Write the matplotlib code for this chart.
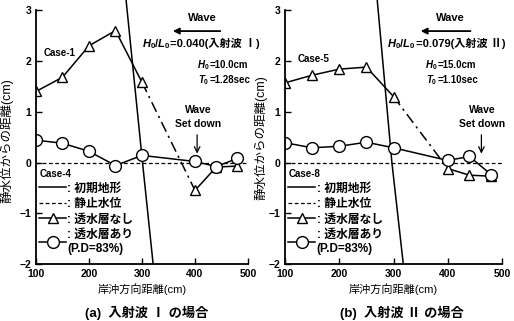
import matplotlib
matplotlib.use("Agg")
from matplotlib import pyplot
from matplotlib.lines import Line2D
from matplotlib.font_manager import FontProperties

pyplot.rcParams['font.family'] = ['Liberation Sans', 'Noto Sans CJK JP', 'DejaVu Sans']
pyplot.rcParams['font.weight'] = 'bold'
pyplot.rcParams['mathtext.fontset'] = 'custom'
pyplot.rcParams['mathtext.it'] = 'Liberation Sans:italic:bold'
pyplot.rcParams['mathtext.rm'] = 'Liberation Sans:bold'

# distance along shore-offshore direction (cm)
x_pts = [100, 150, 200, 250, 300, 400, 440, 480]

# (a) incident wave I
tri_a = [1.40, 1.68, 2.30, 2.60, 1.58, -0.55, -0.09, -0.07]   # Case-1
cir_a = [0.44, 0.38, 0.22, -0.06, 0.14, 0.02, -0.08, 0.08]    # Case-4
profile_x_a = [270, 301, 321]
# (b) incident wave II
tri_b = [1.57, 1.72, 1.84, 1.88, 1.30, -0.12, -0.25, -0.27]   # Case-5
cir_b = [0.39, 0.29, 0.32, 0.40, 0.29, 0.04, 0.12, -0.24]     # Case-8
profile_x_b = [270, 297, 318]
profile_y = [3.2, 0, -2]

xticks = [100, 200, 300, 400, 500]
yticks = [-2, -1, 0, 1, 2, 3]

jp = ['Liberation Sans', 'Noto Sans CJK JP', 'DejaVu Sans']
font_size = 7.5
lw = 1.1

fig = pyplot.figure(figsize=(5.14, 3.21), dpi=100)
axa = fig.add_axes([0.070, 0.1776, 0.4125, 0.822])
axb = fig.add_axes([0.5545, 0.1776, 0.4222, 0.822])

panels = [
    (axa, tri_a, cir_a, profile_x_a, 'Case-1', (145, 2.16), 'Case-4',
     '=0.040(入射波 Ⅰ)', 353, '=10.0cm', '=1.28sec', 428, 413, (453, 353), 406),
    (axb, tri_b, cir_b, profile_x_b, 'Case-5', (152, 2.04), 'Case-8',
     '=0.079(入射波 Ⅱ)', 341, '=15.0cm', '=1.10sec', 381, 404, (447, 345), 464),
]

for (ax, tri, cir, prof_x, case_t, case_pos, case_c, hl_txt, hl_x,
     h_txt, t_txt, ht_x, wave_x, arr_x, sd_x) in panels:
    ax.plot(prof_x, profile_y, color='k', lw=lw)
    ax.axhline(0, color='k', lw=0.9, ls=(0, (3, 2)))
    # triangles: solid, dash-dot across the breaker zone
    ax.plot(x_pts[:5], tri[:5], color='k', lw=lw)
    ax.plot(x_pts[4:6], tri[4:6], color='k', lw=lw, ls=(0, (7, 3, 1.5, 3)))
    ax.plot(x_pts[5:], tri[5:], color='k', lw=lw)
    ax.plot(x_pts, tri, ls='none', marker='^', ms=6.5, mfc='white', mec='k', mew=1.0)
    ax.plot(x_pts, cir, color='k', lw=lw, marker='o', ms=8.5, mfc='white', mec='k', mew=1.0)

    ax.set_xlim(100, 500)
    ax.set_ylim(-2, 3.2)
    ax.set_xticks(xticks)
    ax.set_yticks(yticks)
    ax.spines['top'].set_visible(False)
    ax.spines['right'].set_visible(False)
    ax.spines['left'].set_bounds(-2, 3)
    ax.spines['left'].set_linewidth(1.3)
    ax.spines['bottom'].set_linewidth(1.3)
    ax.tick_params(direction='in', length=4, width=1.0, labelsize=font_size)
    ax.patch.set_alpha(0)

    ax.set_xlabel('岸沖方向距離(cm)', fontsize=8, family=jp, labelpad=3)
    ax.set_ylabel('静水位からの距離(cm)', fontsize=9, family=jp)

    ax.text(case_pos[0], case_pos[1], case_t, fontsize=7, ha='center', va='center')

    # wave direction
    ax.text(wave_x, 2.84, 'Wave', fontsize=8, ha='center', va='center')
    ax.annotate('', xy=(arr_x[1], 2.59), xytext=(arr_x[0], 2.59),
                arrowprops=dict(arrowstyle='-|>', color='k', lw=1.3, mutation_scale=9))
    ax.text(hl_x, 2.27, r'$H_0/L_0$', fontsize=8, ha='right', va='baseline')
    ax.text(hl_x, 2.27, hl_txt, fontsize=8, ha='left', va='baseline', family=jp)
    ax.text(ht_x, 1.86, r'$H_0$', fontsize=7, ha='right', va='baseline')
    ax.text(ht_x, 1.86, h_txt, fontsize=7, ha='left', va='baseline')
    ax.text(ht_x, 1.57, r'$T_0$', fontsize=7, ha='right', va='baseline')
    ax.text(ht_x, 1.57, t_txt, fontsize=7, ha='left', va='baseline')

    # set down
    ax.text(sd_x, 1.04, 'Wave', fontsize=7.5, ha='center', va='center')
    ax.text(sd_x, 0.75, 'Set down', fontsize=7.5, ha='center', va='center')
    ax.annotate('', xy=(sd_x - 2, 0.12), xytext=(sd_x - 2, 0.60),
                arrowprops=dict(arrowstyle='->', color='k', lw=0.9, mutation_scale=10))

    handles = [
        Line2D([], [], color='k', lw=lw),
        Line2D([], [], color='k', lw=0.9, ls=(0, (3, 2))),
        Line2D([], [], color='k', lw=lw, marker='^', ms=6.5, mfc='white', mec='k'),
        Line2D([], [], color='k', lw=lw, marker='o', ms=8.5, mfc='white', mec='k'),
    ]
    labels = [': 初期地形', ': 静止水位', ': 透水層なし', ': 透水層あり\n(P.D=83%)']
    leg = ax.legend(handles, labels, loc='upper left', bbox_to_anchor=(0.015, 0.36),
                    frameon=False, prop=FontProperties(family=jp, size=8.5, weight='bold'),
                    handlelength=2.3, handletextpad=0.1, labelspacing=0.3,
                    borderpad=0, borderaxespad=0, title=case_c,
                    title_fontproperties=FontProperties(family=jp, size=7, weight='bold'),
                    alignment='left')

axa.yaxis.set_label_coords(-0.108, 0.466)
axb.yaxis.set_label_coords(-0.083, 0.48)

fig.text(0.286, 0.025, '(a)  入射波 Ⅰ の場合', fontsize=9.5, ha='center', va='center', family=jp)
fig.text(0.782, 0.025, '(b)  入射波 Ⅱ の場合', fontsize=9.5, ha='center', va='center', family=jp)

pyplot.savefig('out.png', dpi=100)
pyplot.close()
